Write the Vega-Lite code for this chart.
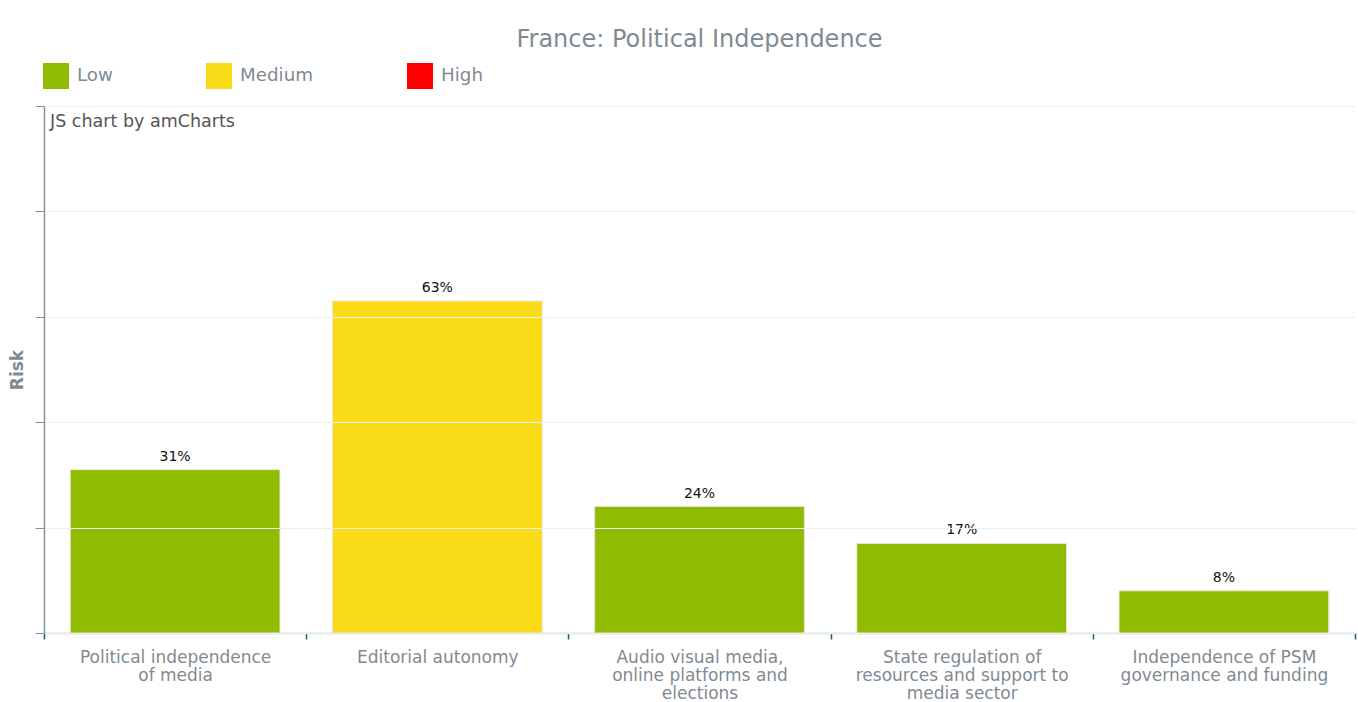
{
  "$schema": "https://vega.github.io/schema/vega-lite/v6.json",
  "width": 1311,
  "height": 527,
  "autosize": {"type": "none"},
  "padding": {"left": 44, "top": 106, "right": 3, "bottom": 69},
  "background": "white",
  "config": {
    "font": "DejaVu Sans",
    "view": {"stroke": null}
  },
  "title": {
    "text": "France: Political Independence",
    "fontSize": 24,
    "fontWeight": "normal",
    "color": "#7f8a92",
    "anchor": "middle",
    "offset": 11
  },
  "data": {
    "values": [
      {"indicator": "Political independence|of media", "score": 0.31, "risk": "Low"},
      {"indicator": "Editorial autonomy", "score": 0.63, "risk": "Medium"},
      {"indicator": "Audio visual media,|online platforms and|elections", "score": 0.24, "risk": "Low"},
      {"indicator": "State regulation of|resources and support to|media sector", "score": 0.17, "risk": "Low"},
      {"indicator": "Independence of PSM|governance and funding", "score": 0.08, "risk": "Low"}
    ]
  },
  "encoding": {
    "x": {
      "field": "indicator",
      "type": "nominal",
      "sort": null,
      "scale": {"paddingInner": 0, "paddingOuter": 0},
      "axis": {
        "title": null,
        "labelAngle": 0,
        "labelExpr": "split(datum.label, '|')",
        "labelFontSize": 17,
        "labelLimit": 0,
        "labelColor": "#7f8a92",
        "labelPadding": 10,
        "labelLineHeight": 18,
        "domainColor": "#a9c1cd",
        "domainWidth": 1.5,
        "tickColor": "#1f5a7a",
        "tickSize": 6,
        "tickWidth": 1.5,
        "tickBand": "extent",
        "grid": false
      }
    },
    "y": {
      "field": "score",
      "type": "quantitative",
      "scale": {"domain": [0, 1], "nice": false},
      "axis": {
        "title": "Risk",
        "titleFontSize": 17,
        "titleFontWeight": "bold",
        "titleColor": "#7f8a92",
        "titlePadding": 8,
        "labels": false,
        "values": [0, 0.2, 0.4, 0.6, 0.8, 1],
        "tickSize": 9,
        "tickColor": "#8a9298",
        "domainColor": "#8a9298",
        "domainWidth": 1.5,
        "grid": true,
        "gridColor": "#eeeeee",
        "gridWidth": 1,
        "zindex": 1
      }
    }
  },
  "layer": [
    {
      "mark": {"type": "bar", "stroke": "#f3e3d8", "strokeWidth": 1, "width": {"band": 0.8}},
      "encoding": {
        "color": {
          "field": "risk",
          "type": "nominal",
          "scale": {"domain": ["Low", "Medium", "High"], "range": ["#8fbb00", "#fadb17", "#ff0000"]},
          "legend": {
            "title": null,
            "orient": "none",
            "legendX": -1,
            "legendY": -43,
            "direction": "horizontal",
            "symbolType": "square",
            "symbolSize": 676,
            "symbolStrokeWidth": 0,
            "symbolOpacity": 1,
            "labelFontSize": 18.3,
            "labelColor": "#7f8a92",
            "labelOffset": 8,
            "columnPadding": 93
          }
        }
      }
    },
    {
      "mark": {"type": "text", "dy": -13, "fontSize": 14, "color": "#111111"},
      "encoding": {
        "text": {"field": "score", "type": "quantitative", "format": ".0%"}
      }
    },
    {
      "data": {"values": [{"credit": "JS chart by amCharts", "anchorCat": "Political independence|of media", "top": 1}]},
      "mark": {"type": "text", "align": "left", "baseline": "top", "dx": 6, "dy": 7, "fontSize": 17.5, "color": "#555555"},
      "encoding": {
        "text": {"field": "credit"},
        "x": {"field": "anchorCat", "type": "nominal", "bandPosition": 0},
        "y": {"field": "top", "type": "quantitative"}
      }
    }
  ]
}
